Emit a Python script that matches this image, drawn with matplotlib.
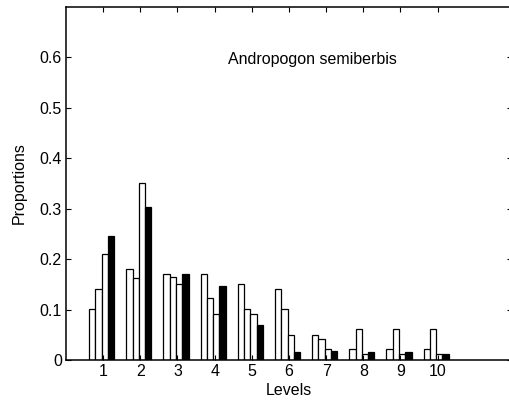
import matplotlib
matplotlib.use("Agg")
import matplotlib.pyplot as plt
import numpy as np

plt.rcParams['font.family'] = ['Liberation Sans', 'DejaVu Sans']

levels = [1, 2, 3, 4, 5, 6, 7, 8, 9, 10]
series_a = [0.102, 0.181, 0.171, 0.171, 0.151, 0.140, 0.050, 0.021, 0.021, 0.021]
series_b = [0.141, 0.162, 0.165, 0.122, 0.101, 0.101, 0.041, 0.061, 0.061, 0.061]
series_c = [0.211, 0.351, 0.151, 0.091, 0.091, 0.050, 0.021, 0.011, 0.011, 0.011]
series_d = [0.245, 0.304, 0.171, 0.147, 0.069, 0.016, 0.017, 0.015, 0.015, 0.011]
yticks = [0, 0.1, 0.2, 0.3, 0.4, 0.5, 0.6]
ytick_labels = ['0', '0.1', '0.2', '0.3', '0.4', '0.5', '0.6']

fig = plt.figure(figsize=(5.09, 4.03), dpi=100)
ax = fig.add_axes([66/509, 43/403, 446/509, 353/403])

x = np.array(levels, dtype=float)
w = 0.17
shift = -0.04
colors = ['white', 'white', 'white', 'black']
for i, s in enumerate([series_a, series_b, series_c, series_d]):
    ax.bar(x + shift + (i - 1.5) * w, s, width=w, color=colors[i],
           edgecolor='black', linewidth=0.9)

ax.set_xlim(0, 12)
ax.set_ylim(0, 0.7)
ax.set_xticks(levels)
ax.set_xticklabels([str(l) for l in levels])
ax.set_yticks(yticks)
ax.set_yticklabels(ytick_labels)
ax.tick_params(direction='in', length=3.5, width=0.8, labelsize=11.5,
               top=True, right=True, pad=3)
for sp in ax.spines.values():
    sp.set_linewidth(1.1)

ax.set_xlabel('Levels', fontsize=11.5, labelpad=3)
ax.set_ylabel('Proportions', fontsize=11.5, labelpad=9.5)
ax.text(6.62, 0.595, 'Andropogon semiberbis', fontsize=11.5, ha='center', va='center')

fig.savefig('out.png', dpi=100)
